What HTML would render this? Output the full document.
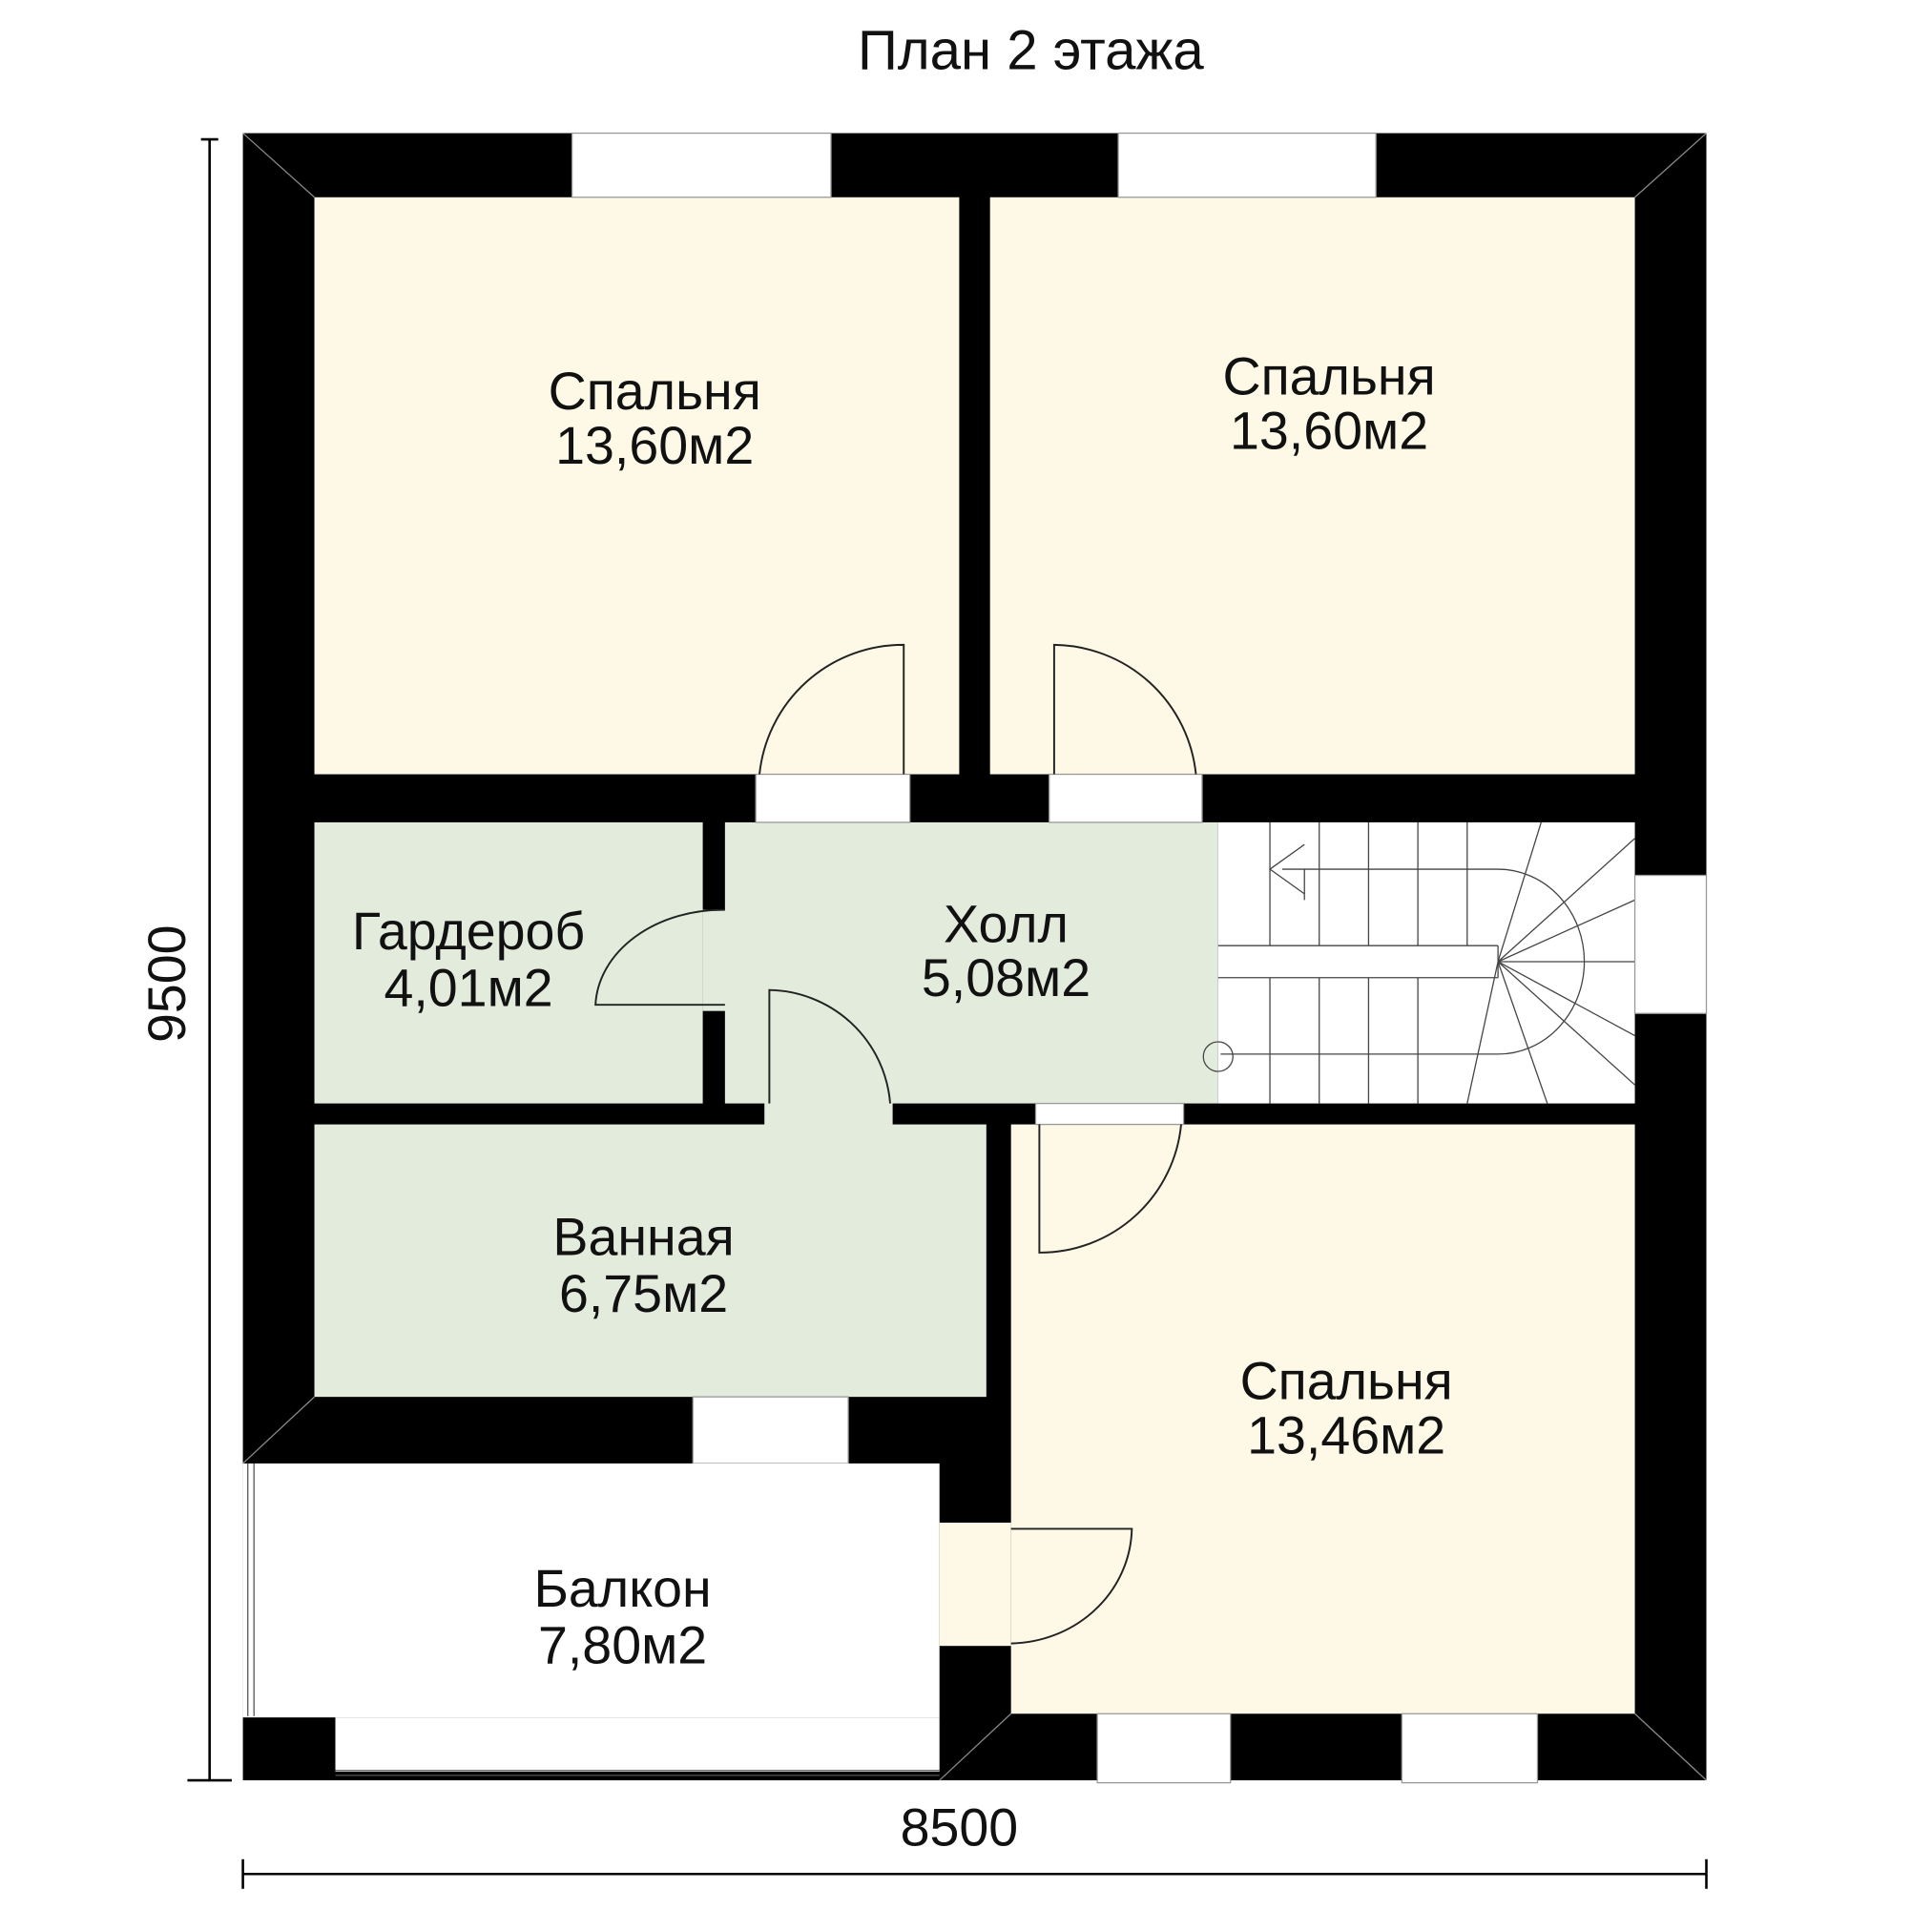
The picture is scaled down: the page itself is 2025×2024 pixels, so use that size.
<!DOCTYPE html>
<html><head><meta charset="utf-8"><style>
html,body{margin:0;padding:0;background:#fff}
svg{display:block}
text{font-family:"Liberation Sans",sans-serif;fill:#111}
</style></head><body>
<svg width="2025" height="2024" viewBox="0 0 1567 1566" preserveAspectRatio="xMinYMin meet" xmlns="http://www.w3.org/2000/svg">
<rect width="1567" height="1566" fill="#fff"/>
<text x="836" y="56" font-size="45" text-anchor="middle">План 2 этажа</text>
<rect x="197" y="108" width="1187" height="1336" fill="#000"/>
<rect x="255" y="160" width="523" height="468" fill="#fdf9e6"/>
<rect x="803" y="160" width="523" height="468" fill="#fdf9e6"/>
<rect x="820" y="912" width="506" height="478" fill="#fdf9e6"/>
<rect x="255" y="667" width="315" height="228" fill="#e2ebdc"/>
<rect x="588" y="667" width="400" height="228" fill="#e2ebdc"/>
<rect x="255" y="912" width="545" height="221" fill="#e2ebdc"/>
<rect x="620" y="890" width="104" height="26" fill="#e2ebdc"/>
<rect x="570" y="738" width="20" height="82" fill="#e2ebdc"/>
<rect x="988" y="667" width="338" height="228" fill="#fff"/>
<g stroke="#444" stroke-width="1" fill="none">
<line x1="988" y1="767" x2="1215" y2="767"/><line x1="988" y1="793" x2="1215" y2="793"/>
<line x1="1215" y1="767" x2="1215" y2="793"/>
<line x1="1030" y1="667" x2="1030" y2="767"/><line x1="1070" y1="667" x2="1070" y2="767"/>
<line x1="1110" y1="667" x2="1110" y2="767"/><line x1="1150" y1="667" x2="1150" y2="767"/>
<line x1="1190" y1="667" x2="1190" y2="767"/><line x1="1030" y1="793" x2="1030" y2="895"/>
<line x1="1070" y1="793" x2="1070" y2="895"/><line x1="1110" y1="793" x2="1110" y2="895"/>
<line x1="1150" y1="793" x2="1150" y2="895"/>
<path d="M1040 705 L1215 705 A70 75 0 0 1 1215 855 L990 855"/>
<line x1="1215" y1="780" x2="1326" y2="680"/><line x1="1215" y1="780" x2="1326" y2="730"/>
<line x1="1215" y1="780" x2="1326" y2="780"/><line x1="1215" y1="780" x2="1326" y2="840"/>
<line x1="1215" y1="780" x2="1326" y2="880"/><line x1="1215" y1="780" x2="1255" y2="895"/>
<line x1="1215" y1="780" x2="1190" y2="895"/><line x1="1215" y1="780" x2="1250" y2="667"/>
<line x1="1058" y1="705" x2="1058" y2="730"/>
<polyline points="1058,685 1030,705 1058,725"/>
<circle cx="988" cy="857" r="12"/>
</g>
<g fill="#fff" stroke="#999" stroke-width="1">
<rect x="464" y="108" width="210" height="52"/>
<rect x="907" y="108" width="209" height="52"/>
<rect x="1326" y="710" width="58" height="112"/>
<rect x="562" y="1133" width="126" height="54"/>
<rect x="890" y="1390" width="108" height="56"/>
<rect x="1137" y="1390" width="110" height="56"/>
<rect x="613" y="628" width="125" height="39"/>
<rect x="851" y="628" width="124" height="39"/>
<rect x="840" y="895" width="120" height="17"/>
</g>
<rect x="197" y="1187" width="565" height="206" fill="#fff"/>
<rect x="272" y="1393" width="490" height="44" fill="#fff"/>
<g stroke="#555" stroke-width="1"><line x1="201" y1="1187" x2="201" y2="1392"/><line x1="206" y1="1187" x2="206" y2="1392"/>
<line x1="272" y1="1436" x2="762" y2="1436"/><line x1="272" y1="1440" x2="762" y2="1440"/></g>
<rect x="762" y="1235" width="58" height="100" fill="#fdf9e6"/>
<g stroke="#222" stroke-width="1.5" fill="none">
<path d="M733 628 L733 523 A117 117 0 0 0 616 628"/>
<path d="M855 628 L855 523 A117 117 0 0 1 970 628"/>
<path d="M588 738 A103 80 0 0 0 483 815 L588 815"/>
<path d="M624 895 L624 803 A100 100 0 0 1 722 895"/>
<path d="M843 912 L843 1016 A115 115 0 0 0 958 912"/>
<path d="M820 1240 L918 1240 A100 95 0 0 1 820 1333"/>
</g>
<g stroke="#888" stroke-width="1"><line x1="197" y1="108" x2="255" y2="160"/><line x1="1384" y1="108" x2="1326" y2="160"/>
<line x1="1384" y1="1444" x2="1326" y2="1390"/><line x1="255" y1="1133" x2="197" y2="1187"/>
<line x1="820" y1="1390" x2="762" y2="1444"/></g>
<g font-size="43" text-anchor="middle">
<text x="531" y="332">Спальня</text><text x="531" y="376">13,60м2</text>
<text x="1078" y="320">Спальня</text><text x="1078" y="364">13,60м2</text>
<text x="380" y="770">Гардероб</text><text x="380" y="816">4,01м2</text>
<text x="816" y="764">Холл</text><text x="816" y="808">5,08м2</text>
<text x="522" y="1018">Ванная</text><text x="522" y="1064">6,75м2</text>
<text x="1092" y="1135">Спальня</text><text x="1092" y="1179">13,46м2</text>
<text x="505" y="1303">Балкон</text><text x="505" y="1349">7,80м2</text>
<text x="778" y="1497">8500</text>
<text x="0" y="0" transform="translate(150,798) rotate(-90)">9500</text>
</g>
<g stroke="#000" stroke-width="2"><line x1="170" y1="113" x2="170" y2="1444"/>
<line x1="163" y1="113" x2="177" y2="113"/><line x1="152" y1="1444" x2="188" y2="1444"/>
<line x1="197" y1="1520" x2="1384" y2="1520"/>
<line x1="197" y1="1508" x2="197" y2="1532"/><line x1="1384" y1="1508" x2="1384" y2="1532"/></g>
</svg>
</body></html>
